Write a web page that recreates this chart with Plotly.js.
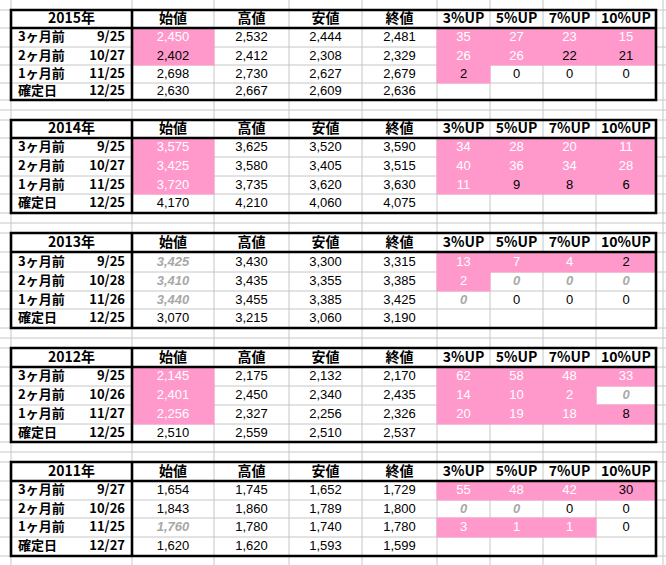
<!DOCTYPE html>
<html>
<head>
<meta charset="utf-8">
<script src="https://cdn.plot.ly/plotly-3.0.1.min.js"></script>
<style>html,body{margin:0;padding:0;background:#fff;}#chart{width:666px;height:565px;}</style>
</head>
<body>
<div id="chart"></div>
<script>
// ---------------- DATA ----------------
const years = ['2015年', '2014年', '2013年', '2012年', '2011年'];
const colHeaders = ['始値', '高値', '安値', '終値', '3%UP', '5%UP', '7%UP', '10%UP'];
const rowLabels = ['3ヶ月前', '2ヶ月前', '1ヶ月前', '確定日'];

const dates2015 = ['9/25', '10/27', '11/25', '12/25'];
const dates2014 = ['9/25', '10/27', '11/25', '12/25'];
const dates2013 = ['9/25', '10/28', '11/26', '12/25'];
const dates2012 = ['9/25', '10/26', '11/27', '12/25'];
const dates2011 = ['9/27', '10/26', '11/25', '12/27'];

const open2015 = [2450, 2402, 2698, 2630];
const high2015 = [2532, 2412, 2730, 2667];
const low2015 = [2444, 2308, 2627, 2609];
const close2015 = [2481, 2329, 2679, 2636];
const up3_2015 = [35, 26, 2];
const up5_2015 = [27, 26, 0];
const up7_2015 = [23, 22, 0];
const up10_2015 = [15, 21, 0];

const open2014 = [3575, 3425, 3720, 4170];
const high2014 = [3625, 3580, 3735, 4210];
const low2014 = [3520, 3405, 3620, 4060];
const close2014 = [3590, 3515, 3630, 4075];
const up3_2014 = [34, 40, 11];
const up5_2014 = [28, 36, 9];
const up7_2014 = [20, 34, 8];
const up10_2014 = [11, 28, 6];

const open2013 = [3425, 3410, 3440, 3070];
const high2013 = [3430, 3435, 3455, 3215];
const low2013 = [3300, 3355, 3385, 3060];
const close2013 = [3315, 3385, 3425, 3190];
const up3_2013 = [13, 2, 0];
const up5_2013 = [7, 0, 0];
const up7_2013 = [4, 0, 0];
const up10_2013 = [2, 0, 0];

const open2012 = [2145, 2401, 2256, 2510];
const high2012 = [2175, 2450, 2327, 2559];
const low2012 = [2132, 2340, 2256, 2510];
const close2012 = [2170, 2435, 2326, 2537];
const up3_2012 = [62, 14, 20];
const up5_2012 = [58, 10, 19];
const up7_2012 = [48, 2, 18];
const up10_2012 = [33, 0, 8];

const open2011 = [1654, 1843, 1760, 1620];
const high2011 = [1745, 1860, 1780, 1620];
const low2011 = [1652, 1789, 1740, 1593];
const close2011 = [1729, 1800, 1780, 1599];
const up3_2011 = [55, 0, 3];
const up5_2011 = [48, 0, 1];
const up7_2011 = [42, 0, 1];
const up10_2011 = [30, 0, 0];

// ---------------- CELL FORMATTING (styles) ----------------
// W = pink fill / white text, K = pink fill / black text, G = grey bold italic, . = plain
const fmt2015 = ['W...WWWW', 'K...WWKK', '....K...', '........'];
const fmt2014 = ['W...WWWW', 'W...WWWW', 'W...WKKK', '........'];
const fmt2013 = ['G...WWWK', 'G...WGGG', 'G...G...', '........'];
const fmt2012 = ['W...WWWW', 'W...WWWG', 'W...WWWK', '........'];
const fmt2011 = ['....WWWK', '....GG..', 'G...WWW.', '........'];

const tables = [
  {year: years[0], dates: dates2015, cols: [open2015, high2015, low2015, close2015, up3_2015, up5_2015, up7_2015, up10_2015], fmt: fmt2015},
  {year: years[1], dates: dates2014, cols: [open2014, high2014, low2014, close2014, up3_2014, up5_2014, up7_2014, up10_2014], fmt: fmt2014},
  {year: years[2], dates: dates2013, cols: [open2013, high2013, low2013, close2013, up3_2013, up5_2013, up7_2013, up10_2013], fmt: fmt2013},
  {year: years[3], dates: dates2012, cols: [open2012, high2012, low2012, close2012, up3_2012, up5_2012, up7_2012, up10_2012], fmt: fmt2012},
  {year: years[4], dates: dates2011, cols: [open2011, high2011, low2011, close2011, up3_2011, up5_2011, up7_2011, up10_2011], fmt: fmt2011}
];

// ---------------- LAYOUT GEOMETRY ----------------
const W = 666, H = 565;
const colEdges = [11, 132, 214, 289, 362, 437, 490, 543, 596, 656];
const gridX = [11, 132, 214, 289, 362, 437, 490, 543, 596, 663];
const rowEdges = [
  [10, 28, 47, 65, 83, 100],
  [120, 138, 157, 176, 194, 213],
  [233, 252, 272, 291, 309, 328],
  [348, 367, 386, 405, 424, 442],
  [462, 481, 500, 518, 537, 556]
];
const gapLines = [110, 223, 338, 452];

const PINK = '#FF99CC';
const GRID = '#C6C6C6';
const GREY_TXT = '#A8A8A8';
const FONT = 'Noto Sans CJK JP';
const NUMFONT = 'Liberation Sans';

const shapes = [];

// grid lines
gridX.forEach(x => shapes.push({type: 'line', xref: 'x', yref: 'y', x0: x, x1: x, y0: 0, y1: H, line: {color: GRID, width: 1}, layer: 'below'}));
rowEdges.forEach(rs => rs.forEach(y => shapes.push({type: 'line', xref: 'x', yref: 'y', x0: 0, x1: W, y0: y, y1: y, line: {color: GRID, width: 1}, layer: 'below'})));
gapLines.forEach(y => shapes.push({type: 'line', xref: 'x', yref: 'y', x0: 0, x1: W, y0: y, y1: y, line: {color: GRID, width: 1}, layer: 'below'}));

// pink cells
tables.forEach((t, ti) => {
  const re = rowEdges[ti];
  t.fmt.forEach((rowFmt, r) => {
    for (let c = 0; c < 8; c++) {
      const f = rowFmt[c];
      if (f === 'W' || f === 'K') {
        shapes.push({type: 'rect', xref: 'x', yref: 'y', x0: colEdges[c + 1] - 0.5, x1: colEdges[c + 2] + 0.5,
          y0: re[r + 1] - 0.5, y1: re[r + 2] + 0.5, fillcolor: PINK, line: {width: 0}, layer: 'below'});
      }
    }
  });
});

// black borders
tables.forEach((t, ti) => {
  const re = rowEdges[ti];
  const L = colEdges[0], R = colEdges[colEdges.length - 1];
  shapes.push({type: 'rect', xref: 'x', yref: 'y', x0: L, x1: R, y0: re[0], y1: re[5], line: {color: '#000', width: 2.6}, layer: 'below'});
  shapes.push({type: 'line', xref: 'x', yref: 'y', x0: L, x1: R, y0: re[1], y1: re[1], line: {color: '#000', width: 2.6}, layer: 'below'});
  shapes.push({type: 'line', xref: 'x', yref: 'y', x0: colEdges[1], x1: colEdges[1], y0: re[0], y1: re[5], line: {color: '#000', width: 2.6}, layer: 'below'});
});

// text via a scatter text trace
const tx = [], ty = [], tt = [], tc = [], ts = [], tf = [], tp = [];
function put(x, y, text, color, size, family, pos) {
  tx.push(x); ty.push(y); tt.push(text); tc.push(color); ts.push(size); tf.push(family); tp.push(pos);
}
tables.forEach((t, ti) => {
  const re = rowEdges[ti];
  const hy = (re[0] + re[1]) / 2 + 0.5;
  put((colEdges[0] + colEdges[1]) / 2, hy, '<b>' + t.year + '</b>', '#000', 14, FONT, 'middle center');
  colHeaders.forEach((h, c) => put((colEdges[c + 1] + colEdges[c + 2]) / 2, hy, '<b>' + h + '</b>', '#000', 14, FONT, 'middle center'));
  for (let r = 0; r < 4; r++) {
    const y = (re[r + 1] + re[r + 2]) / 2 + 0.5;
    put(18, y, '<b>' + rowLabels[r] + '</b>', '#000', 13, FONT, 'middle right');
    put(125, y, '<b>' + t.dates[r] + '</b>', '#000', 13, FONT, 'middle left');
    t.cols.forEach((col, c) => {
      if (r >= col.length) return;
      const v = col[r].toLocaleString('en-US');
      const f = t.fmt[r][c];
      const x = (colEdges[c + 1] + colEdges[c + 2]) / 2;
      if (f === 'G') put(x, y, '<b><i>' + v + '</i></b>', GREY_TXT, 13, NUMFONT, 'middle center');
      else put(x, y, v, f === 'W' ? '#FFFFFF' : '#000000', 13, NUMFONT, 'middle center');
    });
  }
});

const layout = {
  width: W, height: H,
  margin: {l: 0, r: 0, t: 0, b: 0, pad: 0},
  paper_bgcolor: '#FFFFFF', plot_bgcolor: '#FFFFFF',
  xaxis: {range: [0, W], visible: false, fixedrange: true},
  yaxis: {range: [H, 0], visible: false, fixedrange: true},
  showlegend: false, hovermode: false,
  shapes: shapes
};
const trace = {type: 'scatter', mode: 'text', x: tx, y: ty, text: tt, textposition: tp,
  textfont: {color: tc, size: ts, family: tf}, cliponaxis: false, hoverinfo: 'skip'};
Plotly.newPlot('chart', [trace], layout, {staticPlot: true, displayModeBar: false});
</script>
</body>
</html>
